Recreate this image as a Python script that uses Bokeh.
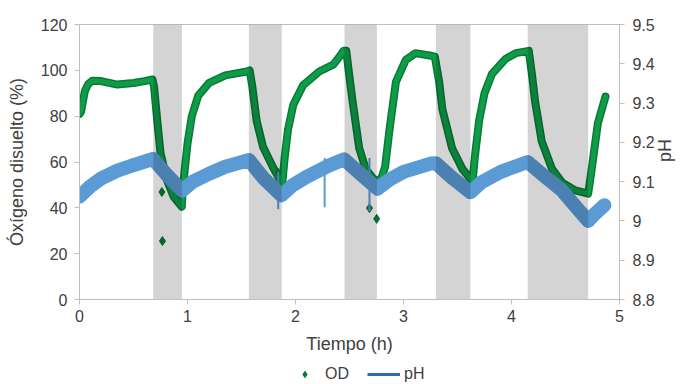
import math
from bokeh.plotting import figure
from bokeh.layouts import column
from bokeh.models import (Range1d, LinearAxis, FixedTicker, CustomJSTickFormatter,
                          Legend, LegendItem)
from bokeh.embed import file_html
from bokeh.resources import INLINE

# ---- data ----
od_t = [0, 0.015, 0.03, 0.05, 0.08, 0.12, 0.2, 0.35, 0.5, 0.6, 0.675,
        0.69, 0.72, 0.75, 0.81, 0.87, 0.947,
        0.955, 0.975, 1.0, 1.04, 1.1, 1.2, 1.35, 1.55, 1.575,
        1.6, 1.64, 1.70, 1.79, 1.87,
        1.88, 1.9, 1.93, 1.98, 2.07, 2.22, 2.35, 2.40, 2.445, 2.47,
        2.5, 2.53, 2.59, 2.65, 2.75, 2.8, 2.83,
        2.87, 2.93, 3.02, 3.11, 3.24, 3.29,
        3.33, 3.36, 3.45, 3.545, 3.64,
        3.66, 3.7, 3.75, 3.82, 3.945, 4.04, 4.16,
        4.19, 4.22, 4.28, 4.375, 4.47, 4.59, 4.71,
        4.74, 4.8, 4.87]
od_v = [81, 82, 86, 91, 94, 95.5, 95.3, 93.8, 94.5, 95.3, 96,
        93, 78, 64, 52, 45, 40.5,
        47, 57, 68, 80, 89, 94.5, 97.8, 99.5, 100,
        93, 78, 66.5, 57.8, 51,
        52, 62, 74, 85, 93.5, 99.5, 102.5, 105.5, 108.5, 108.5,
        97, 86, 66, 57, 51, 53.5, 58,
        74, 95, 104.5, 107.5, 106.5, 106,
        95, 83, 66, 57, 51.5,
        62, 78, 90, 98.5, 105, 107.5, 108.5,
        98, 86, 69, 57, 51, 47.6, 46.2,
        56, 77, 88.5]

od_out_t = [0.763, 0.768, 1.839, 2.685, 2.752]
od_out_v = [46.9, 25.5, 55.3, 39.9, 35.2]

ph_t = [0, 0.1, 0.2, 0.35, 0.5, 0.65, 0.68,
        0.8, 0.95,
        1.05, 1.2, 1.35, 1.57,
        1.7, 1.87,
        1.97, 2.1, 2.3, 2.45,
        2.6, 2.76,
        2.87, 3.0, 3.25, 3.3,
        3.45, 3.62,
        3.72, 3.9, 4.15,
        4.3, 4.47, 4.6, 4.71,
        4.75, 4.86]
ph_v = [9.062, 9.088, 9.108, 9.128, 9.142, 9.155, 9.158,
        9.12, 9.077,
        9.1, 9.12, 9.138, 9.155,
        9.11, 9.065,
        9.09, 9.112, 9.14, 9.157,
        9.12, 9.082,
        9.105, 9.125, 9.146, 9.147,
        9.11, 9.073,
        9.098, 9.125, 9.15,
        9.115, 9.077, 9.035, 9.0,
        9.012, 9.04]

spike_t = [0.2, 0.48, 1.84, 2.27, 2.685]
spike_lo = [9.10, 9.13, 9.03, 9.035, 9.025]
spike_hi = [9.128, 9.158, 9.125, 9.16, 9.16]

band_start = [0.683, 1.568, 2.454, 3.30, 4.15]
band_end = [0.948, 1.873, 2.754, 3.62, 4.71]

x_ticks = [0, 1, 2, 3, 4, 5]
od_ticks = [0, 20, 40, 60, 80, 100, 120]
ph_ticks = [8.8, 8.9, 9.0, 9.1, 9.2, 9.3, 9.4, 9.5]

FONT = "Liberation Sans"
TXT = "#404040"
AXC = "#BFBFBF"
GREEN_DK = "#087A36"
GREEN = "#0E9C48"
BLUE = "#5B9BD5"

p = figure(width=687, height=360, x_range=Range1d(0, 5), y_range=Range1d(0, 120),
           output_backend="svg", toolbar_location=None,
           min_border_left=79, min_border_right=66, min_border_top=24, min_border_bottom=61)
p.extra_y_ranges = {"ph": Range1d(8.8, 9.5)}
p.xgrid.visible = False
p.ygrid.visible = False
p.outline_line_color = AXC
p.background_fill_color = "white"
p.border_fill_color = "white"

# OD thick line
p.line(od_t, od_v, line_width=8, line_color=GREEN_DK, line_join="round", line_cap="round")
p.line(od_t, od_v, line_width=5, line_color=GREEN, line_join="round", line_cap="round")
p.scatter(od_out_t, od_out_v, marker="diamond", size=9, fill_color=GREEN_DK, line_color=GREEN_DK)

# pH thick line
p.line(ph_t, ph_v, line_width=14, line_color=BLUE, line_join="round", line_cap="round",
       y_range_name="ph")
p.segment(x0=spike_t, y0=spike_lo, x1=spike_t, y1=spike_hi, line_width=2,
          line_color=BLUE, y_range_name="ph")

# shaded bands on top
p.quad(left=band_start, right=band_end, bottom=[0] * len(band_start), top=[120] * len(band_start),
       fill_color="black", fill_alpha=0.17, line_alpha=0)

fmt = CustomJSTickFormatter(code="return String(Number(tick.toFixed(1)));")

def style_axis(ax):
    ax.axis_line_color = AXC
    ax.major_tick_line_color = AXC
    ax.minor_tick_line_color = None
    ax.major_tick_out = 5
    ax.major_tick_in = 0
    ax.major_label_text_font = FONT
    ax.major_label_text_font_size = "16px"
    ax.major_label_text_color = TXT
    ax.axis_label_text_font = FONT
    ax.axis_label_text_font_size = "18px"
    ax.axis_label_text_font_style = "normal"
    ax.axis_label_text_color = TXT

xa = p.xaxis[0]
style_axis(xa)
xa.ticker = FixedTicker(ticks=x_ticks)
xa.formatter = fmt
xa.axis_label = "Tiempo (h)"
xa.major_label_standoff = 5
xa.axis_label_standoff = 9

ya = p.yaxis[0]
style_axis(ya)
ya.ticker = FixedTicker(ticks=od_ticks)
ya.formatter = fmt
ya.axis_label = "Óxígeno disuelto (%)"
ya.major_label_standoff = 7
ya.axis_label_standoff = 11

ra = LinearAxis(y_range_name="ph")
style_axis(ra)
ra.ticker = FixedTicker(ticks=ph_ticks)
ra.formatter = fmt
ra.axis_label = "pH"
ra.major_label_standoff = 8
ra.axis_label_standoff = 7
try:
    ra.axis_label_orientation = math.pi / 2
except Exception:
    pass
p.add_layout(ra, "right")

# ---- legend strip below the chart ----
lf = figure(width=687, height=24, x_range=Range1d(0, 5), y_range=Range1d(1000, 1001),
            output_backend="svg", toolbar_location=None, min_border=0)
lf.axis.visible = False
lf.xgrid.visible = False
lf.ygrid.visible = False
lf.outline_line_color = None
lf.background_fill_color = "white"
lf.border_fill_color = "white"
# proxies (their data lies outside this strip's ranges, so only the legend glyphs show)
od_leg = lf.scatter(od_out_t, od_out_v, marker="diamond", size=8,
                    fill_color=GREEN_DK, line_color=GREEN_DK)
ph_leg = lf.line(ph_t, ph_v, line_width=3, line_color="#2F6DB0")
legend = Legend(items=[LegendItem(label="OD", renderers=[od_leg]),
                       LegendItem(label="pH", renderers=[ph_leg])],
                orientation="horizontal", location=(209, 1))
legend.background_fill_alpha = 0
legend.border_line_alpha = 0
legend.padding = 0
legend.margin = 0
legend.glyph_width = 33
legend.glyph_height = 16
legend.label_height = 16
legend.label_standoff = 4
legend.spacing = 18
legend.label_text_font = FONT
legend.label_text_font_size = "16px"
legend.label_text_color = TXT
lf.add_layout(legend, "center")

layout = column(p, lf, spacing=0)
open("out.html", "w").write(file_html(layout, INLINE))
